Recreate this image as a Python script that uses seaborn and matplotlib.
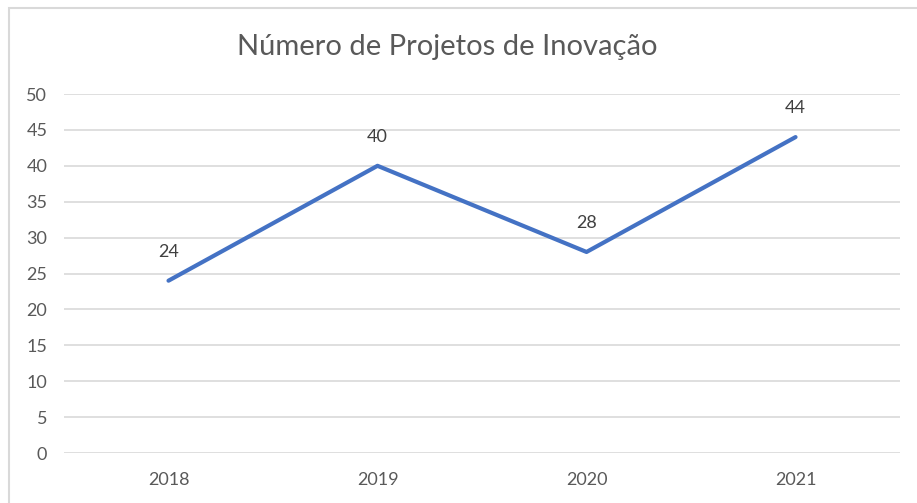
import matplotlib
matplotlib.use("Agg")
import matplotlib.pyplot as plt
import matplotlib.patches as mpatches
import seaborn as sns
import pandas as pd

anos = ["2018", "2019", "2020", "2021"]
projetos = [24, 40, 28, 44]
titulo = "Número de Projetos de Inovação"

sns.set_style("white")
plt.rcParams["font.family"] = ["Lato", "DejaVu Sans"]

df = pd.DataFrame({"ano": anos, "projetos": projetos})

fig = plt.figure(figsize=(9.17, 5.03), dpi=100)
ax = fig.add_axes([0.0698, 0.0994, 0.9117, 0.7137])

sns.lineplot(data=df, x="ano", y="projetos", ax=ax, color="#4472C4", linewidth=3.0, sort=False)

for i, v in enumerate(projetos):
    ax.annotate(str(v), (i, v), xytext=(0, 21), textcoords="offset points",
                ha="center", va="center", fontsize=13, color="#404040")

ax.set_xlim(-0.5, 3.5)
ax.set_ylim(0, 50)
ax.set_yticks(range(0, 51, 5))
ax.yaxis.grid(True, color="#d9d9d9", linewidth=1.2)
ax.xaxis.grid(False)
for s in ax.spines.values():
    s.set_visible(False)
ax.tick_params(axis="both", length=0, labelsize=13, labelcolor="#595959")
ax.tick_params(axis="y", pad=12)
ax.tick_params(axis="x", pad=14)
ax.set_xlabel("")
ax.set_ylabel("")

fig.text(0.488, 0.906, titulo, ha="center", va="center", fontsize=21, color="#595959")

# chart frame (only top/left edges visible in the crop)
frame = mpatches.Rectangle((8.5 / 917, -0.1), 1.2, 1.1 - 8.5 / 503, transform=fig.transFigure,
                           fill=False, edgecolor="#d9d9d9", linewidth=1.5)
fig.patches.append(frame)

fig.savefig("out.png", dpi=100)
